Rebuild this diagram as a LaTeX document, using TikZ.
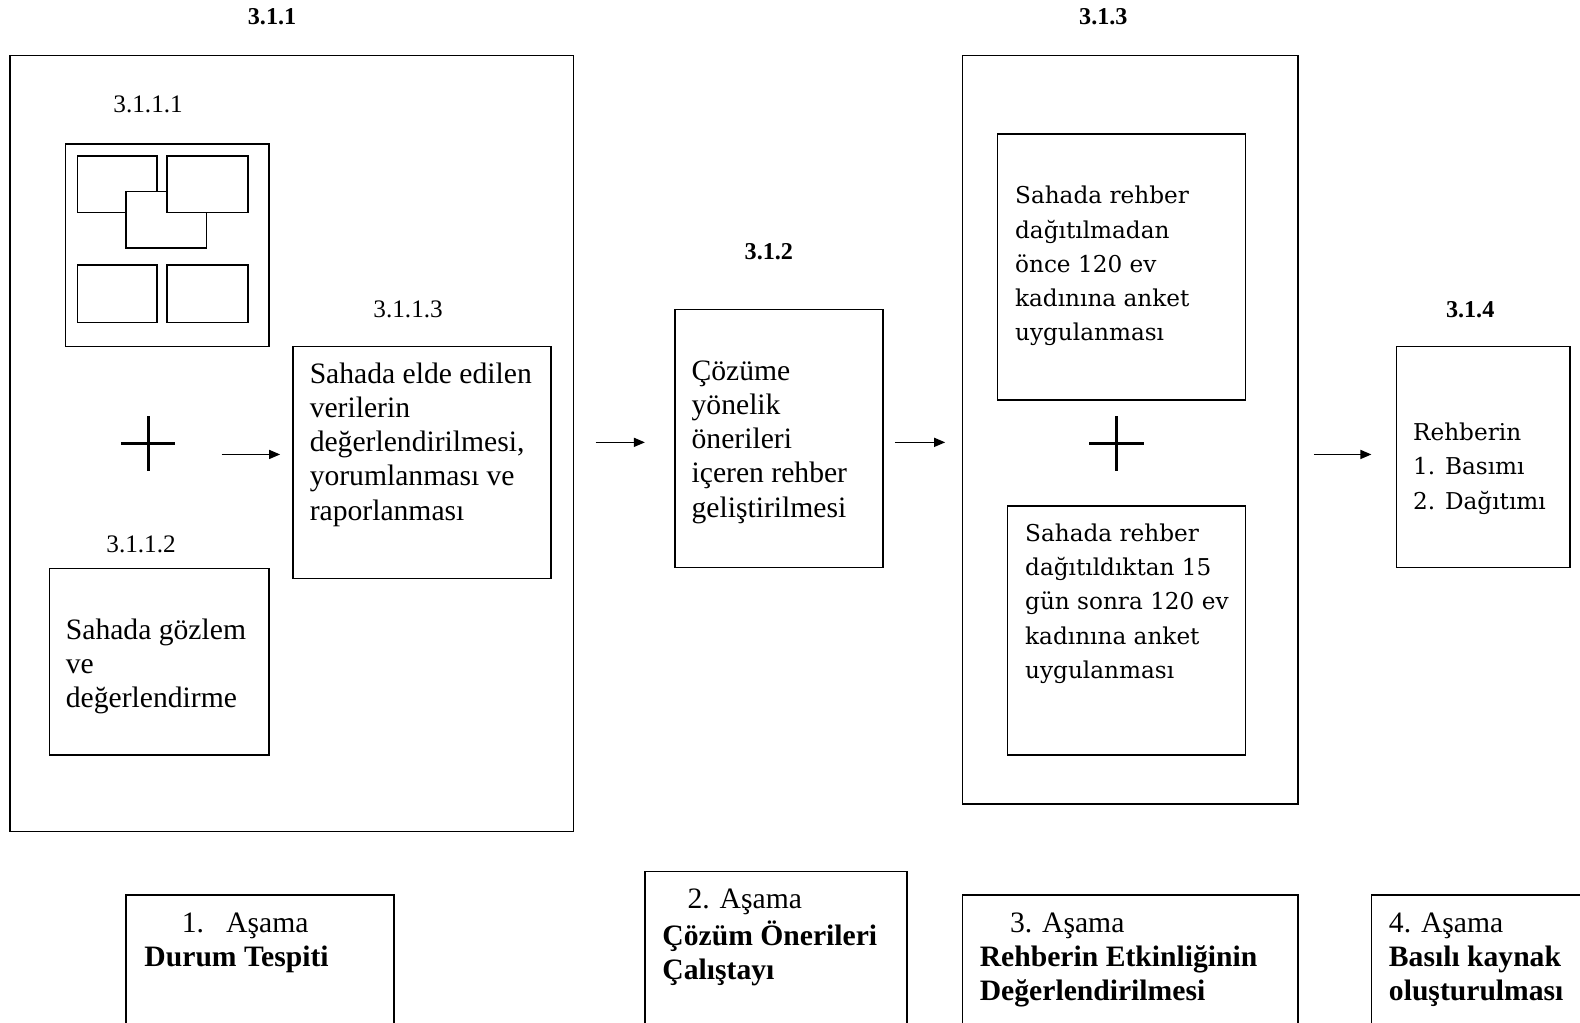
\documentclass[tikz,border=0pt]{standalone}
\usepackage{fontspec}
\setmainfont{Liberation Serif}
\newfontfamily\wideserif{DejaVu Serif}
\usetikzlibrary{arrows.meta}

\tikzset{
  box/.style={draw, line width=0.8pt, inner sep=0pt},
  photo/.style={draw, line width=0.8pt, fill=white},
  txt/.style={anchor=north west, inner sep=0pt, align=left, font=\fontsize{14.7}{17}\selectfont},
  widetxt/.style={anchor=north west, inner sep=0pt, align=left, font=\wideserif\fontsize{11.5}{17}\selectfont},
  lbl/.style={font=\fontsize{12.5}{14}\selectfont},
  numlbl/.style={font=\bfseries\fontsize{12}{14}\selectfont},
  flow/.style={-{Triangle[length=5.5pt,width=4.5pt]}, line width=0.7pt},
  plusline/.style={line width=1.6pt}
}

\begin{document}
\begin{tikzpicture}[x=0.5pt,y=-0.5pt]
  \clip (0,0) rectangle (1568,1015);
  \fill[white] (0,0) rectangle (1568,1015);

  % 3.1.1
  \draw (270,17) node[numlbl] (n311) {3.1.1};
  \node[box, minimum width=279.5pt, minimum height=385pt] (outerA) at (289.5,440) {};
  \draw (147,104) node[lbl] (n3111) {3.1.1.1};
  \node[box, minimum width=101pt, minimum height=100.5pt] (imgbox) at (166,243.5) {};
  \draw[photo] (77,155) rectangle (156,211);
  \draw[photo] (125,190) rectangle (205,246);
  \draw[photo] (166,155) rectangle (246,211);
  \draw[photo] (77,263) rectangle (156,320);
  \draw[photo] (166,263) rectangle (246,320);
  \draw[plusline] (120,440) -- (174,440) (147,413) -- (147,467);

  \draw (405,307) node[lbl] (n3113) {3.1.1.3};
  \node[box, minimum width=128pt, minimum height=115pt] (b3113) at (419,459) {};
  \node[txt] (t3113) at (307,356) {\strut Sahada elde edilen\\ verilerin\\ değerlendirilmesi,\\ yorumlanması ve\\ raporlanması};

  \draw (140,540) node[lbl] (n3112) {3.1.1.2};
  \node[box, minimum width=109pt, minimum height=92.5pt] (b3112) at (158,656.5) {};
  \node[txt] (t3112) at (65,610) {\strut Sahada gözlem\\ ve\\ değerlendirme};

  % 3.1.2
  \draw (763,250) node[numlbl] (n312) {3.1.2};
  \node[box, minimum width=103pt, minimum height=128pt] (b312) at (773,435) {};
  \node[txt] (t312) at (686,353) {\strut Çözüme\\ yönelik\\ önerileri\\ içeren rehber\\ geliştirilmesi};

  % 3.1.3
  \draw (1095,17) node[numlbl] (n313) {3.1.3};
  \node[box, minimum width=166.5pt, minimum height=371.5pt] (outerB) at (1121.5,426.5) {};
  \node[box, minimum width=123pt, minimum height=132pt] (b313a) at (1113,265) {};
  \node[widetxt] (t313a) at (1007,178) {\strut Sahada rehber\\ dağıtılmadan\\ önce 120 ev\\ kadınına anket\\ uygulanması};
  \draw[plusline] (1081,440) -- (1135,440) (1108,413) -- (1108,467);
  \node[box, minimum width=118pt, minimum height=123.5pt] (b313b) at (1118,625.5) {};
  \node[widetxt] (t313b) at (1017,513) {\strut Sahada rehber\\ dağıtıldıktan 15\\ gün sonra 120 ev\\ kadınına anket\\ uygulanması};

  % 3.1.4
  \draw (1459,307) node[numlbl] (n314) {3.1.4};
  \node[box, minimum width=86pt, minimum height=109.5pt] (b314) at (1472,453.5) {};
  \node[widetxt] (t314) at (1402,413) {\strut Rehberin\\ 1. Basımı\\ 2. Dağıtımı};

  % arrows
  \coordinate (a1s) at (220,451); \coordinate (a1e) at (278,451);
  \coordinate (a2s) at (591,439); \coordinate (a2e) at (640,439);
  \coordinate (a3s) at (888,439); \coordinate (a3e) at (938,439);
  \coordinate (a4s) at (1304,451); \coordinate (a4e) at (1361,451);
  \draw[flow] (a1s) -- (a1e);
  \draw[flow] (a2s) -- (a2e);
  \draw[flow] (a3s) -- (a3e);
  \draw[flow] (a4s) -- (a4e);

  % stages
  \node[box, minimum width=133pt, minimum height=71pt] (st1) at (258,959) {};
  \node[txt] (ts1) at (143,901) {\hspace*{18.5pt}\strut 1.\ \ \ Aşama\\ \textbf{Durum Tespiti}};
  \node[box, minimum width=130pt, minimum height=82.5pt] (st2) at (770,947.5) {};
  \node[txt] (ts2) at (657,877) {\hspace*{12.5pt}\strut 2. Aşama\\ \textbf{Çözüm Önerileri}\\ \textbf{Çalıştayı}};
  \node[box, minimum width=166.5pt, minimum height=71pt] (st3) at (1121.5,959) {};
  \node[txt] (ts3) at (972,901) {\hspace*{15pt}\strut 3. Aşama\\ \textbf{Rehberin Etkinliğinin}\\ \textbf{Değerlendirilmesi}};
  \node[box, minimum width=119.5pt, minimum height=71pt] (st4) at (1480.5,959) {};
  \node[txt] (ts4) at (1378,901) {\strut 4. Aşama\\ \textbf{Basılı kaynak}\\ \textbf{oluşturulması}};
\end{tikzpicture}
\end{document}
